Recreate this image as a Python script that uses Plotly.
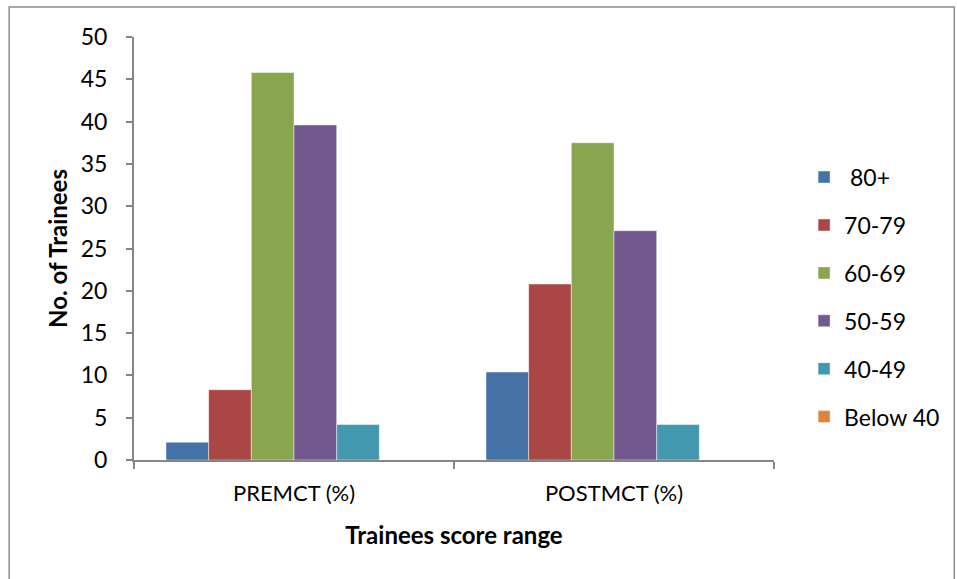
import plotly.graph_objects as go

# Score distribution of trainees before and after the MCT
categories = ["PREMCT (%)", "POSTMCT (%)"]
series_names = [" 80+", "70-79", "60-69", "50-59", "40-49", "Below 40"]
values_80_plus = [2.1, 10.4]
values_70_79 = [8.3, 20.8]
values_60_69 = [45.8, 37.5]
values_50_59 = [39.6, 27.1]
values_40_49 = [4.2, 4.2]
values_below_40 = [0, 0]
y_ticks = [0, 5, 10, 15, 20, 25, 30, 35, 40, 45, 50]

colors = ["#4572A7", "#AA4643", "#89A54E", "#71588F", "#4198AF", "#DB843D"]
all_values = [values_80_plus, values_70_79, values_60_69,
              values_50_59, values_40_49, values_below_40]

FONT = "Lato, Open Sans, sans-serif"

fig = go.Figure()
for i, (name, vals, col) in enumerate(zip(series_names, all_values, colors)):
    fig.add_trace(go.Bar(
        x=categories, y=vals, name=name,
        marker=dict(color=col, line=dict(color="rgba(255,255,255,0.45)", width=1)),
        legendgroup=f"g{i}",
    ))

fig.update_layout(
    width=957, height=579,
    margin=dict(l=134, r=177, t=37, b=119),
    paper_bgcolor="white", plot_bgcolor="white",
    barmode="group", bargap=0.2, bargroupgap=0,
    font=dict(family=FONT, size=22, color="#000"),
    showlegend=True,
    legend=dict(
        x=1.047, y=0.385, xanchor="left", yanchor="middle",
        traceorder="grouped", tracegroupgap=15,
        font=dict(family=FONT, size=23, color="#000"),
        itemwidth=30, bgcolor="rgba(0,0,0,0)",
    ),
    xaxis=dict(
        range=[-0.5, 1.5], showline=True, linecolor="#868686", linewidth=2,
        ticks="outside", tickson="boundaries", ticklen=7, tickcolor="#868686",
        tickwidth=2, tickfont=dict(family=FONT, size=22), ticklabelstandoff=13,
        title=dict(text="<b>Trainees score range</b>", standoff=22,
                   font=dict(family=FONT, size=24)),
        showgrid=False, zeroline=False,
    ),
    yaxis=dict(
        range=[0, 50], tickvals=y_ticks, showline=True, linecolor="#868686",
        linewidth=2, ticks="outside", ticklen=6, tickcolor="#868686", tickwidth=2,
        tickfont=dict(family=FONT, size=23), ticklabelstandoff=14,
        title=dict(text="<b>No. of Trainees</b>", standoff=6,
                   font=dict(family=FONT, size=24)),
        showgrid=False, zeroline=False,
    ),
    shapes=[dict(
        type="rect", xref="paper", yref="paper",
        x0=(8 - 134) / 646, x1=(962 - 134) / 646,
        y0=(460 - 590) / 423, y1=(460 - 7) / 423,
        line=dict(color="#8c8c8c", width=1.5), fillcolor="rgba(0,0,0,0)",
        layer="below",
    )],
)

fig.write_html("out.html")
